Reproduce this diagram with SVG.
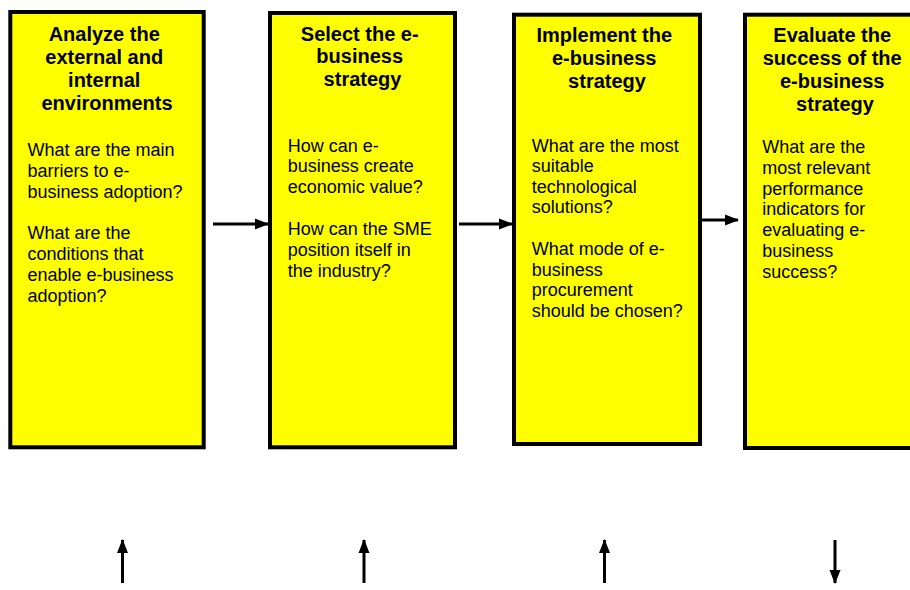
<svg xmlns="http://www.w3.org/2000/svg" width="910" height="590" viewBox="0 0 910 590">
  <style>
    .box { fill: #ffff00; stroke: #000000; stroke-width: 4; }
    .title { font-family: "Liberation Sans", Arial, sans-serif; font-size: 20px; font-weight: bold; fill: #000; text-anchor: middle; }
    .body { font-family: "Liberation Sans", Arial, sans-serif; font-size: 18px; fill: #000; }
    .conn { stroke: #000; stroke-width: 3; fill: none; marker-end: url(#head); }
  </style>
  <defs>
    <marker id="head" viewBox="0 0 14 14" refX="13" refY="7" markerWidth="14" markerHeight="14" markerUnits="userSpaceOnUse" orient="auto">
      <path d="M0,1.5 L14,7 L0,12.5 Z" fill="#000"/>
    </marker>
  </defs>
  <rect width="910" height="590" fill="#ffffff"/>

  <!-- Stage 1 -->
  <g id="analyze">
    <rect class="box" x="10.3" y="12" width="193.4" height="435.3"/>
    <text class="title">
      <tspan x="107" y="40.5">Analyze the</tspan>
      <tspan x="107" y="63.5">external and</tspan>
      <tspan x="107" y="86.5">internal</tspan>
      <tspan x="107" y="109.5">environments</tspan>
    </text>
    <text class="body">
      <tspan x="27.5" y="155.5">What are the main</tspan>
      <tspan x="27.5" y="176.5">barriers to e-</tspan>
      <tspan x="27.5" y="197.5">business adoption?</tspan>
      <tspan x="27.5" y="239">What are the</tspan>
      <tspan x="27.5" y="260">conditions that</tspan>
      <tspan x="27.5" y="281">enable e-business</tspan>
      <tspan x="27.5" y="302">adoption?</tspan>
    </text>
  </g>

  <!-- Stage 2 -->
  <g id="select">
    <rect class="box" x="270" y="13" width="185" height="434.3"/>
    <text class="title">
      <tspan x="362.5" y="40.7">Select the e-</tspan>
      <tspan x="362.5" y="63">business</tspan>
      <tspan x="362.5" y="85.5">strategy</tspan>
    </text>
    <text class="body">
      <tspan x="287.7" y="151.7">How can e-</tspan>
      <tspan x="287.7" y="172.4">business create</tspan>
      <tspan x="287.7" y="193.3">economic value?</tspan>
      <tspan x="287.7" y="235">How can the SME</tspan>
      <tspan x="287.7" y="255.7">position itself in</tspan>
      <tspan x="287.7" y="276.6">the industry?</tspan>
    </text>
  </g>

  <!-- Stage 3 -->
  <g id="implement">
    <rect class="box" x="514" y="14.7" width="186" height="429.3"/>
    <text class="title">
      <tspan x="607" y="41.7">Implement the</tspan>
      <tspan x="607" y="64.8">e-business</tspan>
      <tspan x="607" y="87.5">strategy</tspan>
    </text>
    <text class="body">
      <tspan x="531.7" y="151.7">What are the most</tspan>
      <tspan x="531.7" y="172.2">suitable</tspan>
      <tspan x="531.7" y="192.7">technological</tspan>
      <tspan x="531.7" y="213.3">solutions?</tspan>
      <tspan x="531.7" y="255">What mode of e-</tspan>
      <tspan x="531.7" y="275.5">business</tspan>
      <tspan x="531.7" y="296">procurement</tspan>
      <tspan x="531.7" y="316.5">should be chosen?</tspan>
    </text>
  </g>

  <!-- Stage 4 (runs past the right edge) -->
  <g id="evaluate">
    <rect class="box" x="745" y="14.7" width="200" height="433.3"/>
    <text class="title">
      <tspan x="835" y="41.7">Evaluate the</tspan>
      <tspan x="835" y="64.8">success of the</tspan>
      <tspan x="835" y="88">e-business</tspan>
      <tspan x="835" y="111">strategy</tspan>
    </text>
    <text class="body">
      <tspan x="762.3" y="153.3">What are the</tspan>
      <tspan x="762.3" y="174">most relevant</tspan>
      <tspan x="762.3" y="194.7">performance</tspan>
      <tspan x="762.3" y="215.4">indicators for</tspan>
      <tspan x="762.3" y="236.1">evaluating e-</tspan>
      <tspan x="762.3" y="256.8">business</tspan>
      <tspan x="762.3" y="277.5">success?</tspan>
    </text>
  </g>

  <g id="connectors">
    <line class="conn" x1="213" y1="224" x2="268" y2="224"/>
    <line class="conn" x1="459" y1="224" x2="512" y2="224"/>
    <line class="conn" x1="701" y1="220" x2="738" y2="220"/>
    <line class="conn" x1="122.5" y1="583" x2="122.5" y2="540"/>
    <line class="conn" x1="364" y1="583" x2="364" y2="540"/>
    <line class="conn" x1="604.5" y1="583" x2="604.5" y2="540"/>
    <line class="conn" x1="835" y1="540" x2="835" y2="583"/>
  </g>
</svg>
